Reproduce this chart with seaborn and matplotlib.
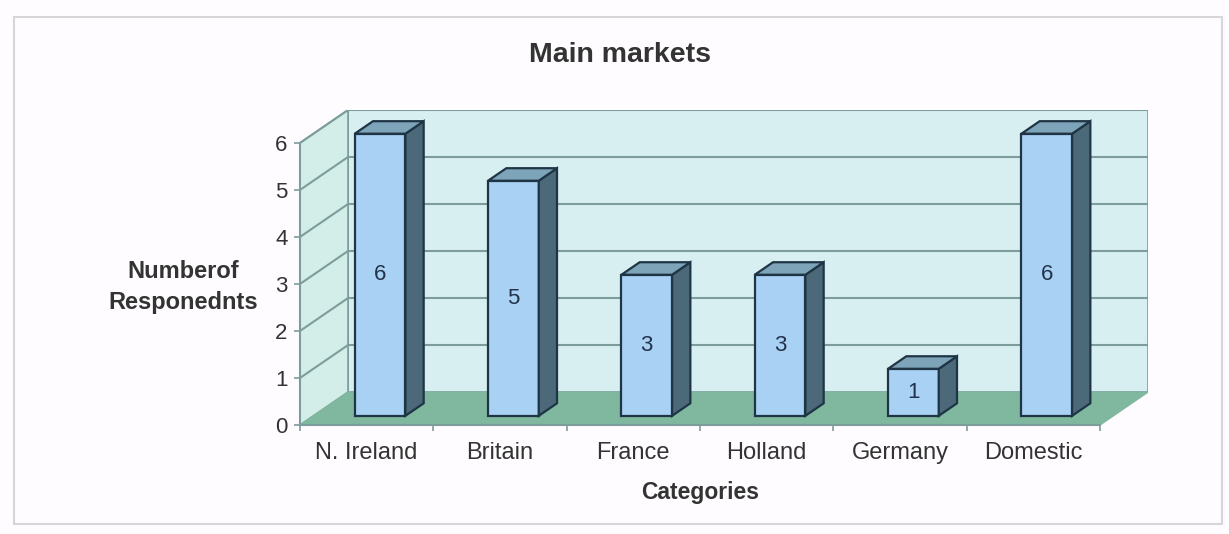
import matplotlib
matplotlib.use("Agg")
import matplotlib.pyplot as plt
from matplotlib.patches import Polygon, Rectangle
import seaborn as sns
import pandas as pd

# ---- data ----
categories = ["N. Ireland", "Britain", "France", "Holland", "Germany", "Domestic"]
respondents = [6, 5, 3, 3, 1, 6]
y_ticks = [0, 1, 2, 3, 4, 5, 6]

title = "Main markets"
x_label = "Categories"
y_label = "Numberof\nResponednts"

# ---- style ----
sns.set_theme(style="white")
plt.rcParams["font.family"] = ["Liberation Sans", "DejaVu Sans"]

BG = "#fefcfe"
WALL = "#d8eff2"
SIDE_WALL = "#d3ede8"
FLOOR = "#7fb79f"
GRID = "#7d9d9d"
FACE = "#a9d1f4"
SIDE = "#4b6979"
TOP = "#7ea4b9"
EDGE = "#1f3545"
TEXT = "#333333"

# oblique projection of the depth axis (data units)
DX, DY = 0.36, 0.70
BAR_FRONT, BAR_DEPTH = 0.28, 0.38   # fraction of total depth
BAR_WIDTH = 0.38

ymax = max(y_ticks)
n = len(categories)

W, H, DPI = 1229, 534, 100
fig = plt.figure(figsize=(W / DPI, H / DPI), dpi=DPI, facecolor=BG)

# axes placed in pixel terms: front floor edge and back wall top
left_px, right_px, bottom_px, top_px = 300, 1148, 425, 110
ax = fig.add_axes([left_px / W, 1 - bottom_px / H,
                   (right_px - left_px) / W, (bottom_px - top_px) / H])
ax.set_facecolor("none")

df = pd.DataFrame({"category": categories, "respondents": respondents})
sns.barplot(data=df, x="category", y="respondents", width=BAR_WIDTH,
            color=FACE, saturation=1, edgecolor=EDGE, linewidth=1.6,
            ax=ax, zorder=5)

x0, x1 = -0.5, n - 0.5
ax.set_xlim(x0, x1 + DX)
ax.set_ylim(0, ymax + DY)

# walls and floor
ax.add_patch(Polygon([(x0 + DX, DY), (x1 + DX, DY), (x1 + DX, ymax + DY),
                      (x0 + DX, ymax + DY)], closed=True, facecolor=WALL,
                     edgecolor=GRID, linewidth=1.2, zorder=0))
ax.add_patch(Polygon([(x0, 0), (x0 + DX, DY), (x0 + DX, ymax + DY), (x0, ymax)],
                     closed=True, facecolor=SIDE_WALL, edgecolor=GRID,
                     linewidth=1.2, zorder=0))
ax.add_patch(Polygon([(x0, 0), (x1, 0), (x1 + DX, DY), (x0 + DX, DY)],
                     closed=True, facecolor=FLOOR, edgecolor=FLOOR,
                     linewidth=1.0, zorder=1))

# gridlines on back wall and side wall
for k in y_ticks[1:]:
    ax.plot([x0 + DX, x1 + DX], [k + DY, k + DY], color=GRID, lw=1.5, zorder=1)
    ax.plot([x0, x0 + DX], [k, k + DY], color=GRID, lw=1.5, zorder=1)

# 3D bar faces: shift the front faces into depth, add side and top
fx, fy = BAR_FRONT * DX, BAR_FRONT * DY
bx, by = BAR_DEPTH * DX, BAR_DEPTH * DY
for patch, v in zip(ax.patches[:n], respondents):
    x = patch.get_x()
    w = patch.get_width()
    h = patch.get_height()
    patch.set_x(x + fx)
    patch.set_y(fy)
    xl, xr = x + fx, x + fx + w
    yb, yt = fy, fy + h
    ax.add_patch(Polygon([(xr, yb), (xr + bx, yb + by), (xr + bx, yt + by), (xr, yt)],
                         closed=True, facecolor=SIDE, edgecolor=EDGE,
                         linewidth=1.6, zorder=5))
    ax.add_patch(Polygon([(xl, yt), (xr, yt), (xr + bx, yt + by), (xl + bx, yt + by)],
                         closed=True, facecolor=TOP, edgecolor=EDGE,
                         linewidth=1.6, zorder=5))
    ax.text(xl + w / 2, yb + h / 2, str(v), ha="center", va="center",
            fontsize=16, color="#22324a", zorder=6)

# axes: front edges only
for s in ["top", "right"]:
    ax.spines[s].set_visible(False)
ax.spines["left"].set_bounds(0, ymax)
ax.spines["bottom"].set_bounds(x0, x1)
for s in ["left", "bottom"]:
    ax.spines[s].set_color(GRID)
    ax.spines[s].set_linewidth(1.5)
    ax.spines[s].set_zorder(2)

ax.set_yticks(y_ticks)
ax.set_yticklabels([str(t) for t in y_ticks])
ax.tick_params(axis="y", left=True, length=4, width=1.2, color=GRID, pad=5,
               labelsize=16, labelcolor=TEXT)
ax.set_xticks(range(n))
ax.set_xticklabels(categories)
ax.set_xticks([i + 0.5 for i in range(-1, n)], minor=True)
ax.tick_params(axis="x", which="major", bottom=False, length=0, pad=12,
               labelsize=17, labelcolor=TEXT)
ax.tick_params(axis="x", which="minor", bottom=True, length=4, width=1.2,
               color=GRID)

ax.set_xlabel(x_label, fontsize=16.5, fontweight="bold", color=TEXT,
              va="center")
ax.set_ylabel(y_label, fontsize=17, fontweight="bold", color=TEXT,
              rotation=0, ha="center", va="center", linespacing=1.45)
ax.xaxis.set_label_coords((700 - left_px) / (right_px - left_px),
                          (bottom_px - 492) / (bottom_px - top_px))
ax.yaxis.set_label_coords((183 - left_px) / (right_px - left_px),
                          (bottom_px - 287) / (bottom_px - top_px))

fig.text(620 / W, 1 - 55 / H, title, ha="center", va="center",
         fontsize=20.5, fontweight="bold", color=TEXT)

# chart area border
fig.add_artist(Rectangle((14 / W, 1 - 524 / H), (1222 - 14) / W, (524 - 17) / H,
                         transform=fig.transFigure, fill=False,
                         edgecolor="#d6d6d6", linewidth=1.5))

fig.savefig("out.png", dpi=DPI, facecolor=BG)
